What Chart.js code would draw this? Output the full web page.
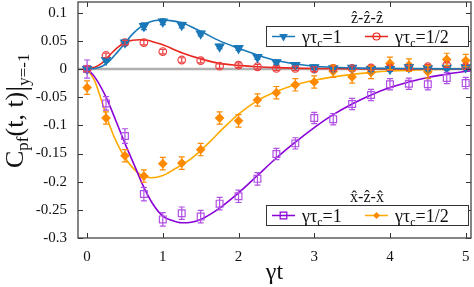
<!DOCTYPE html>
<html>
<head>
<meta charset="utf-8">
<script src="https://cdn.jsdelivr.net/npm/chart.js"></script>
<style>
  html, body { margin: 0; padding: 0; background: #fff; }
  #canvas_div { width: 474px; height: 287px; }
</style>
</head>
<body>
<div id="canvas_div"><canvas id="myChart" width="474" height="287"></canvas></div>
<script>
// sampled times of the simulation points
const tPoints = [0, 0.25, 0.5, 0.75, 1, 1.25, 1.5, 1.75, 2, 2.25, 2.5, 2.75, 3, 3.25, 3.5, 3.75, 4, 4.25, 4.5, 4.75, 5];

// z-z-z, gamma tau_c = 1 (triangles)
const zzzOne = [0, 0.016, 0.047, 0.076, 0.084, 0.078, 0.063, 0.040, 0.037, 0.021, 0.012, 0.007, 0.003, 0.001, 0.002, 0.0, 0.0, 0.003, 0.001, 0.002, 0.003];
const zzzOneErr = [0.004, 0.004, 0.005, 0.006, 0.005, 0.005, 0.004, 0.004, 0.004, 0.004, 0.004, 0.004, 0.004, 0.004, 0.004, 0.004, 0.004, 0.004, 0.004, 0.004, 0.004];
// z-z-z, gamma tau_c = 1/2 (circles)
const zzzHalf = [0, 0.024, 0.047, 0.047, 0.031, 0.016, 0.015, 0.005, 0.007, 0.004, 0.001, 0.001, 0.0, 0.001, 0.001, 0.002, 0.002, 0.002, 0.004, 0.007, 0.004];
const zzzHalfErr = [0.004, 0.004, 0.004, 0.004, 0.004, 0.004, 0.004, 0.004, 0.004, 0.004, 0.004, 0.004, 0.004, 0.004, 0.004, 0.004, 0.004, 0.004, 0.004, 0.004, 0.004];
// x-z-x, gamma tau_c = 1 (squares)
const xzxOne = [0, -0.061, -0.119, -0.222, -0.267, -0.256, -0.262, -0.239, -0.226, -0.195, -0.151, -0.132, -0.087, -0.089, -0.062, -0.046, -0.027, -0.026, -0.027, -0.016, -0.025];
const xzxOneErr = [0.016, 0.012, 0.013, 0.012, 0.012, 0.011, 0.011, 0.011, 0.011, 0.011, 0.010, 0.010, 0.010, 0.010, 0.010, 0.010, 0.010, 0.010, 0.010, 0.010, 0.010];
// x-z-x, gamma tau_c = 1/2 (diamonds)
const xzxHalf = [-0.033, -0.087, -0.154, -0.190, -0.168, -0.167, -0.143, -0.087, -0.092, -0.055, -0.042, -0.028, -0.023, -0.004, -0.014, -0.006, 0.010, 0.007, -0.005, 0.017, 0.015];
const xzxHalfErr = [0.012, 0.011, 0.011, 0.011, 0.011, 0.011, 0.011, 0.011, 0.011, 0.011, 0.011, 0.011, 0.011, 0.011, 0.011, 0.011, 0.011, 0.011, 0.011, 0.011, 0.011];

// theory curves
const zzzOneCurveT = [0, 0.1, 0.2, 0.3, 0.4, 0.5, 0.6, 0.7, 0.8, 0.9, 1.0, 1.1, 1.25, 1.5, 1.75, 2.0, 2.25, 2.5, 2.75, 3.0, 3.5, 4.0, 5.07];
const zzzOneCurve = [0, 0.001, 0.005, 0.015, 0.030, 0.046, 0.062, 0.074, 0.082, 0.086, 0.087, 0.086, 0.082, 0.067, 0.050, 0.037, 0.025, 0.015, 0.009, 0.005, 0.002, 0.001, 0];
const zzzHalfCurveT = [0, 0.1, 0.2, 0.3, 0.4, 0.5, 0.6, 0.7, 0.8, 0.9, 1.0, 1.25, 1.5, 1.75, 2.0, 2.25, 2.5, 3.0, 4.0, 5.07];
const zzzHalfCurve = [0, 0.003, 0.011, 0.025, 0.038, 0.047, 0.051, 0.052, 0.051, 0.047, 0.043, 0.029, 0.018, 0.010, 0.0065, 0.004, 0.0025, 0.001, 0.0002, 0];
const xzxOneCurveT = [0, 0.1, 0.25, 0.375, 0.5, 0.625, 0.75, 0.875, 1.0, 1.125, 1.25, 1.375, 1.5, 1.625, 1.75, 2.0, 2.25, 2.5, 2.75, 3.0, 3.25, 3.5, 3.75, 4.0, 4.25, 4.5, 4.75, 5.07];
const xzxOneCurve = [0, -0.014, -0.050, -0.090, -0.132, -0.171, -0.210, -0.241, -0.261, -0.269, -0.273, -0.272, -0.267, -0.258, -0.247, -0.220, -0.189, -0.158, -0.130, -0.104, -0.081, -0.062, -0.046, -0.033, -0.023, -0.015, -0.009, -0.003];
const xzxHalfCurveT = [0, 0.1, 0.2, 0.3, 0.4, 0.5, 0.6, 0.7, 0.85, 1.0, 1.15, 1.375, 1.6, 1.8, 2.0, 2.25, 2.5, 2.75, 3.0, 3.25, 3.5, 3.75, 4.0, 4.5, 5.07];
const xzxHalfCurve = [0, -0.021, -0.060, -0.101, -0.133, -0.157, -0.175, -0.187, -0.193, -0.189, -0.178, -0.159, -0.132, -0.105, -0.080, -0.056, -0.040, -0.028, -0.020, -0.014, -0.0095, -0.006, -0.0036, -0.0012, 0];

const xTicks = [0, 1, 2, 3, 4, 5];
const xTickLabels = ["0", "1", "2", "3", "4", "5"];
const yTicks = [0.1, 0.05, 0, -0.05, -0.1, -0.15, -0.2, -0.25, -0.3];
const yTickLabels = ["0.1", "0.05", "0", "-0.05", "-0.1", "-0.15", "-0.2", "-0.25", "-0.3"];
const xMin = -0.12, xMax = 5.07, yMin = -0.3, yMax = 0.119;

const seriesLabel = ["γτ", "c", "=1"];
const seriesLabelHalf = ["γτ", "c", "=1/2"];

const SERIF = "'Liberation Serif', 'DejaVu Serif', serif";
const BLUE = "#1a78b8", RED = "#e8281e", RED_PT = "#ee4040";
const PURPLE = "#8a00d8", PURPLE_PT = "#b050e6", ORANGE = "#ffaa00", ORANGE_PT = "#ff8a00";

const pairs = (xs, ys) => xs.map((x, i) => ({ x: x, y: ys[i] }));

const curve = (xs, ys, color) => ({
  data: pairs(xs, ys),
  borderColor: color,
  borderWidth: 1.6,
  pointRadius: 0,
  cubicInterpolationMode: "monotone",
  fill: false,
  order: 5,
});

const markers = (ys, errs, color, style, fillIt, radius, rot) => ({
  data: pairs(tPoints, ys),
  err: errs,
  showLine: false,
  pointStyle: style,
  pointRadius: radius,
  pointRotation: rot || 0,
  pointBorderColor: color,
  pointBackgroundColor: fillIt ? color : "rgba(0,0,0,0)",
  pointBorderWidth: 1.2,
  order: 1,
});

// error bars with caps
const errorBars = {
  id: "errorBars",
  afterDatasetsDraw(chart) {
    const ctx = chart.ctx;
    const ys = chart.scales.y;
    chart.data.datasets.forEach((ds, i) => {
      if (!ds.err) return;
      const meta = chart.getDatasetMeta(i);
      ctx.save();
      ctx.strokeStyle = ds.pointBorderColor;
      ctx.lineWidth = 1.2;
      meta.data.forEach((el, j) => {
        const v = ds.data[j].y, e = ds.err[j];
        const top = ys.getPixelForValue(v + e);
        const bot = ys.getPixelForValue(v - e);
        ctx.beginPath();
        ctx.moveTo(el.x, top); ctx.lineTo(el.x, bot);
        ctx.moveTo(el.x - 3, top); ctx.lineTo(el.x + 3, top);
        ctx.moveTo(el.x - 3, bot); ctx.lineTo(el.x + 3, bot);
        ctx.stroke();
      });
      ctx.restore();
    });
  },
};

function drawRich(ctx, parts, x, y) {
  let cx = x;
  parts.forEach((p) => {
    ctx.font = p.size + "px " + SERIF;
    ctx.fillText(p.text, cx, y + (p.dy || 0));
    cx += ctx.measureText(p.text).width + (p.gap || 0);
  });
  return cx;
}

function drawMarker(ctx, kind, color, x, y) {
  ctx.save();
  ctx.strokeStyle = color;
  ctx.fillStyle = color;
  ctx.lineWidth = 1.2;
  ctx.beginPath();
  if (kind === "tri") {
    ctx.moveTo(x - 4.3, y - 2.5); ctx.lineTo(x + 4.3, y - 2.5); ctx.lineTo(x, y + 5);
    ctx.closePath(); ctx.fill();
  } else if (kind === "circ") {
    ctx.arc(x, y, 3.5, 0, Math.PI * 2); ctx.stroke();
  } else if (kind === "sq") {
    ctx.rect(x - 3.3, y - 3.3, 6.6, 6.6); ctx.stroke();
  } else {
    ctx.moveTo(x, y - 3.5); ctx.lineTo(x + 3.5, y); ctx.lineTo(x, y + 3.5); ctx.lineTo(x - 3.5, y);
    ctx.closePath(); ctx.fill();
  }
  ctx.restore();
}

const legends = [
  { title: "ẑ-ẑ-ẑ", top: 26, entries: [
    { color: BLUE, kind: "tri", text: seriesLabel },
    { color: RED, kind: "circ", text: seriesLabelHalf },
  ] },
  { title: "x̂-ẑ-x̂", top: 205, entries: [
    { color: PURPLE, kind: "sq", text: seriesLabel },
    { color: ORANGE, mcolor: ORANGE_PT, kind: "dia", text: seriesLabelHalf },
  ] },
];

const decorations = {
  id: "decorations",
  afterDraw(chart) {
    const ctx = chart.ctx;
    const a = chart.chartArea;
    const xs = chart.scales.x, ys = chart.scales.y;
    ctx.save();
    // inward tick marks
    ctx.strokeStyle = "#333";
    ctx.lineWidth = 1;
    ctx.beginPath();
    xTicks.forEach((v) => {
      const px = Math.round(xs.getPixelForValue(v)) + 0.5;
      ctx.moveTo(px, a.bottom); ctx.lineTo(px, a.bottom - 5);
      ctx.moveTo(px, a.top); ctx.lineTo(px, a.top + 5);
    });
    yTicks.forEach((v) => {
      const py = Math.round(ys.getPixelForValue(v)) + 0.5;
      ctx.moveTo(a.left, py); ctx.lineTo(a.left + 5, py);
      ctx.moveTo(a.right, py); ctx.lineTo(a.right - 5, py);
    });
    ctx.stroke();
    // frame
    ctx.strokeStyle = "#444";
    ctx.lineWidth = 1.3;
    ctx.strokeRect(a.left, a.top, a.right - a.left, a.bottom - a.top);

    // legends
    legends.forEach((lg) => {
      const left = 266, right = 468, h = 20;
      ctx.fillStyle = "#fff";
      ctx.fillRect(left, lg.top, right - left, h);
      ctx.strokeStyle = "#333";
      ctx.lineWidth = 1;
      ctx.strokeRect(left + 0.5, lg.top + 0.5, right - left, h);
      ctx.fillStyle = "#111";
      ctx.textBaseline = "alphabetic";
      ctx.textAlign = "center";
      ctx.font = "16px " + SERIF;
      ctx.fillText(lg.title, (left + right) / 2, lg.top - 3);
      ctx.textAlign = "left";
      const yc = lg.top + h / 2 + 0.5;
      const starts = [272, 365];
      lg.entries.forEach((en, k) => {
        const x0 = starts[k];
        ctx.strokeStyle = en.color;
        ctx.lineWidth = 1.5;
        ctx.beginPath(); ctx.moveTo(x0, yc); ctx.lineTo(x0 + 23, yc); ctx.stroke();
        drawMarker(ctx, en.kind, en.mcolor || en.color, x0 + 11.5, yc);
        ctx.fillStyle = "#111";
        drawRich(ctx, [
          { text: en.text[0], size: 18 },
          { text: en.text[1], size: 12, dy: 4 },
          { text: en.text[2], size: 18 },
        ], x0 + 30, yc + 6);
      });
    });

    // y axis title
    ctx.translate(23, 168);
    ctx.rotate(-Math.PI / 2);
    ctx.fillStyle = "#111";
    ctx.textAlign = "left";
    ctx.textBaseline = "alphabetic";
    drawRich(ctx, [
      { text: "C", size: 26 },
      { text: "pf", size: 17, dy: 5 },
      { text: "(t, t)", size: 26 },
      { text: "|", size: 30, dy: 3 },
      { text: "y=-1", size: 17, dy: 6 },
    ], 0, 0);
    ctx.restore();
  },
};

const config = {
  type: "line",
  data: {
    datasets: [
      markers(zzzOne, zzzOneErr, BLUE, "triangle", true, 5, 180),
      markers(zzzHalf, zzzHalfErr, RED_PT, "circle", false, 3.8),
      markers(xzxOne, xzxOneErr, PURPLE_PT, "rect", false, 4.8),
      markers(xzxHalf, xzxHalfErr, ORANGE_PT, "rectRot", true, 4),
      curve(zzzOneCurveT, zzzOneCurve, BLUE),
      curve(zzzHalfCurveT, zzzHalfCurve, RED),
      curve(xzxOneCurveT, xzxOneCurve, PURPLE),
      curve(xzxHalfCurveT, xzxHalfCurve, ORANGE),
      {
        data: [{ x: xMin, y: 0 }, { x: xMax, y: 0 }],
        borderColor: "#b0b0b0",
        borderWidth: 2.5,
        pointRadius: 0,
        order: 10,
      },
    ],
  },
  options: {
    responsive: false,
    animation: false,
    devicePixelRatio: 1,
    layout: { padding: { top: 2, right: 3, left: 0, bottom: 0 }, autoPadding: false },
    plugins: { legend: { display: false }, tooltip: { enabled: false } },
    scales: {
      x: {
        type: "linear",
        min: xMin,
        max: xMax,
        afterBuildTicks: (s) => { s.ticks = xTicks.map((v) => ({ value: v })); },
        afterFit: (s) => { s.height = 49; s.paddingLeft = 0; s.paddingRight = 0; },
        grid: { display: false, drawTicks: false },
        border: { display: false },
        ticks: {
          padding: 10,
          color: "#111",
          font: { family: SERIF, size: 15 },
          maxRotation: 0,
          callback: (v, i) => xTickLabels[i],
        },
        title: {
          display: true,
          text: "γt",
          color: "#111",
          font: { family: SERIF, size: 24 },
          padding: { top: 0, bottom: 0 },
        },
      },
      y: {
        type: "linear",
        min: yMin,
        max: yMax,
        afterBuildTicks: (s) => { s.ticks = yTicks.map((v) => ({ value: v })); },
        afterFit: (s) => { s.width = 78; s.paddingTop = 0; s.paddingBottom = 0; },
        grid: { display: false, drawTicks: false },
        border: { display: false },
        ticks: {
          padding: 11,
          color: "#111",
          font: { family: SERIF, size: 15 },
          callback: (v, i) => yTickLabels[i],
        },
      },
    },
  },
  plugins: [errorBars, decorations],
};

window.onload = () => {
  new Chart(document.getElementById("myChart"), config);
};
</script>
</body>
</html>
